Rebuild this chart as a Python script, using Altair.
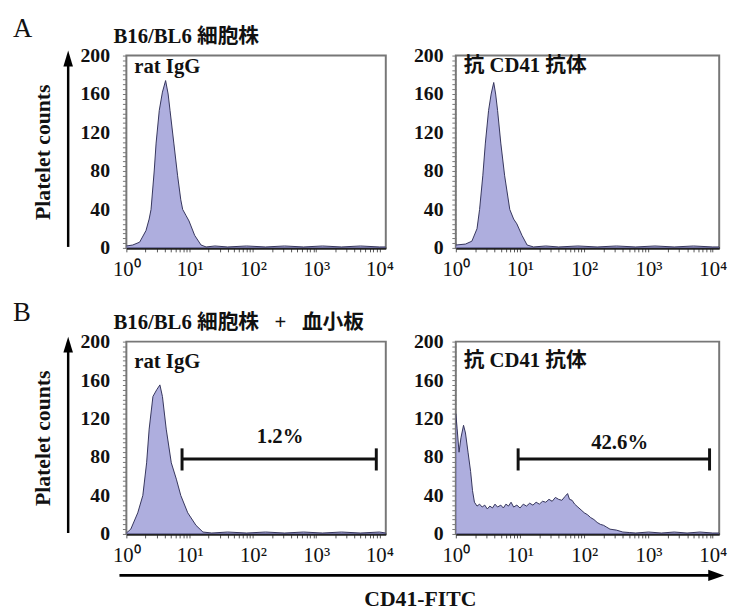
import altair as alt
import pandas as pd

SERIF = "Liberation Serif, 'Noto Sans CJK JP', serif"
FILL = "#8b8bd0"
EDGE = "#34345a"

# ---- data: x = log10(CD41-FITC intensity), y = platelet counts ----
A_RAT_LOG = [0.00, 0.10, 0.21, 0.31, 0.36, 0.39, 0.44, 0.47, 0.52, 0.57, 0.62, 0.66, 0.69,
             0.75, 0.81, 0.86, 0.89, 0.94, 0.99, 1.08, 1.18, 1.26, 1.40, 1.60, 1.90, 2.20,
             2.50, 2.80, 3.10, 3.40, 3.70, 4.00, 4.10]
A_RAT_CNT = [2, 3, 6, 18, 30, 40, 80, 109, 143, 162, 174, 160, 143,
             109, 75, 50, 40, 34, 28, 13, 3, 1, 2, 1, 2, 1,
             2, 1, 2, 1, 2, 1, 1]

A_CD41_LOG = [0.00, 0.15, 0.25, 0.33, 0.37, 0.42, 0.46, 0.51, 0.55, 0.59, 0.62, 0.65, 0.70,
              0.76, 0.84, 0.90, 0.95, 1.03, 1.11, 1.21, 1.40, 1.60, 1.90, 2.20, 2.50, 2.80,
              3.10, 3.40, 3.70, 4.00, 4.10]
A_CD41_CNT = [3, 4, 7, 20, 40, 75, 109, 143, 160, 172, 160, 143, 109,
              75, 40, 30, 25, 13, 3, 1, 2, 1, 2, 1, 2, 1,
              2, 1, 2, 1, 1]

B_RAT_LOG = [0.00, 0.07, 0.18, 0.26, 0.32, 0.36, 0.42, 0.48, 0.53, 0.57, 0.63, 0.71, 0.79,
             0.86, 0.97, 1.10, 1.21, 1.35, 1.60, 1.90, 2.20, 2.50, 2.80, 3.10, 3.40, 3.70,
             4.00, 4.10]
B_RAT_CNT = [1, 5, 22, 40, 74, 109, 143, 150, 155, 143, 109, 74, 57,
             40, 22, 9, 2, 1, 2, 1, 2, 1, 2, 1, 2, 1,
             2, 1]

B_CD41_LOG = [0.00, 0.02, 0.05, 0.08, 0.12, 0.15, 0.19, 0.23, 0.26, 0.29, 0.33, 0.37, 0.41,
              0.45, 0.49, 0.53, 0.57, 0.61, 0.65, 0.70, 0.74, 0.78, 0.82, 0.86, 0.90, 0.95,
              1.00, 1.05, 1.10, 1.15, 1.20, 1.25, 1.30, 1.35, 1.40, 1.45, 1.50, 1.55, 1.60,
              1.65, 1.70, 1.74, 1.77, 1.81, 1.85, 1.90, 1.95, 2.00, 2.05, 2.10, 2.15, 2.20,
              2.25, 2.30, 2.35, 2.40, 2.50, 2.60, 2.70, 2.80, 3.00, 3.20, 3.40, 3.60, 3.80,
              4.00, 4.10]
B_CD41_CNT = [125, 110, 85, 100, 113, 105, 85, 65, 45, 33, 29, 31, 28,
              30, 26, 29, 27, 31, 28, 30, 27, 31, 29, 33, 28, 30,
              27, 31, 29, 32, 30, 33, 31, 34, 33, 36, 34, 38, 36,
              35, 39, 42, 36, 35, 31, 28, 25, 22, 20, 17, 15, 12,
              10, 9, 7, 5, 4, 2, 1.5, 1, 2, 1, 2, 1, 2,
              1, 1]

# gates: start, end, text position (log10), text height (count), percentage text
GATE_B_RAT = (0.88, 3.95, 2.43, 101, "1.2%")
GATE_B_CD41 = (0.97, 3.95, 2.55, 95, "42.6%")
GATE_LEVEL = 78

X_TICKS = [1, 10, 100, 1000, 10000]
X_TICK_LABELS = ["10⁰", "10¹", "10²", "10³", "10⁴"]
X_MINOR = [m * 10 ** k for k in range(4) for m in range(1, 10)] + [10000]
Y_TICKS = [0, 40, 80, 120, 160, 200]
Y_MINOR = list(range(0, 201, 5))

TITLE_A = "B16/BL6 細胞株"
TITLE_B = "B16/BL6 細胞株\u2002 + \u2002血小板"
LABEL_RAT = "rat IgG"
LABEL_CD41 = "抗 CD41 抗体"
Y_TITLE = "Platelet counts"
X_TITLE = "CD41-FITC"

H = 195
W_LEFT = 263
W_RIGHT = 267

x_label_expr = " : ".join(
    f"datum.value == {v} ? '{t}'" for v, t in zip(X_TICKS, X_TICK_LABELS)
) + " : ''"
y_label_expr = f"indexof({Y_TICKS}, datum.value) >= 0 ? datum.label : ''"

XSCALE = alt.Scale(type="log", domain=[1, 10 ** 4.1])
YSCALE = alt.Scale(domain=[0, 200])


def txt(t, x, y, size=21, weight="bold", align="left", baseline="middle", font=SERIF):
    return alt.Chart(pd.DataFrame({"t": [t]})).mark_text(
        font=font, fontSize=size, fontWeight=weight, align=align, baseline=baseline,
        color="#111"
    ).encode(x=alt.value(x), y=alt.value(y), text="t:N")


def panel(logs, counts, width, label, label_y, left, gate=None, title=None,
          letter=None, letter_y=None, bottom=False):
    df = pd.DataFrame({"x": [10 ** v for v in logs], "y": counts})
    xaxis = alt.Axis(values=X_MINOR, labelExpr=x_label_expr, labelOverlap=False,
                     labelFlush=False, labelFont=SERIF, labelFontSize=21,
                     labelColor="#111", tickSize=4, tickColor="#555",
                     labelPadding=7, domainColor="#222", domainWidth=2.5,
                     grid=False, title=None)
    yaxis_kw = dict(values=Y_MINOR, labelExpr=y_label_expr, labelOverlap=False,
                    labelFont=SERIF, labelFontSize=20, labelFontWeight="bold",
                    labelColor="#111", tickSize=4, tickColor="#777", domain=False,
                    grid=False, labelPadding=13 if left else 9)
    if left:
        yaxis = alt.Axis(title=Y_TITLE, titleX=-85, titleY=H / 2, titleAngle=270,
                         titleAlign="center", titleBaseline="middle", titleFont=SERIF,
                         titleFontSize=22, titleFontWeight="bold", titleColor="#111",
                         **yaxis_kw)
    else:
        yaxis = alt.Axis(title=None, **yaxis_kw)

    X = alt.X("x:Q", scale=XSCALE, axis=xaxis)
    Y = alt.Y("y:Q", scale=YSCALE, axis=yaxis)

    hist = alt.Chart(df).mark_area(
        color=FILL, line={"color": EDGE, "strokeWidth": 1}, clip=True
    ).encode(x=X, y=Y)
    layers = [hist, txt(label, 8, label_y)]

    if gate is not None:
        g0, g1, gx, gy, gt = gate
        gdf = pd.DataFrame({"x": [10 ** g0], "x2": [10 ** g1], "y": [GATE_LEVEL]})
        bar = alt.Chart(gdf).mark_rule(color="#111", strokeWidth=3).encode(
            x=X, x2="x2:Q", y=Y)
        cdf = pd.DataFrame({"x": [10 ** g0, 10 ** g1],
                            "y": [GATE_LEVEL - 12] * 2, "y2": [GATE_LEVEL + 11] * 2})
        caps = alt.Chart(cdf).mark_rule(color="#111", strokeWidth=3).encode(
            x=X, y=Y, y2="y2:Q")
        tdf = pd.DataFrame({"x": [10 ** gx], "y": [gy], "t": [gt]})
        ptxt = alt.Chart(tdf).mark_text(font=SERIF, fontSize=21, fontWeight="bold",
                                        color="#111").encode(x=X, y=Y, text="t:N")
        layers += [bar, caps, ptxt]

    if left:
        arrow = alt.Chart(pd.DataFrame({"a": [0]})).mark_rule(
            color="#000", strokeWidth=2.5).encode(
            x=alt.value(-59), y=alt.value(H - 1), y2=alt.value(6))
        head = alt.Chart(pd.DataFrame({"a": [0]})).mark_point(
            shape="M0,-1L0.6,1L-0.6,1Z", size=260, filled=True, opacity=1,
            color="#000").encode(x=alt.value(-59), y=alt.value(3))
        layers += [arrow, head]
    if title is not None:
        layers.append(txt(title, -13, -19))
    if letter is not None:
        layers.append(txt(letter, -115, letter_y, size=27, weight="normal",
                          baseline="alphabetic",
                          font="Liberation Serif, serif"))
    if bottom:
        xr = alt.Chart(pd.DataFrame({"a": [0]})).mark_rule(
            color="#000", strokeWidth=3).encode(
            x=alt.value(-7), x2=alt.value(594), y=alt.value(H + 42))
        xh = alt.Chart(pd.DataFrame({"a": [0]})).mark_point(
            shape="M1,0L-1,-0.7L-1,0.7Z", size=260, filled=True, opacity=1,
            color="#000").encode(x=alt.value(598), y=alt.value(H + 42))
        layers += [xr, xh, txt(X_TITLE, 298, H + 66, size=22, align="center")]

    return alt.layer(*layers).properties(width=width, height=H)


p1 = panel(A_RAT_LOG, A_RAT_CNT, W_LEFT, LABEL_RAT, 12, True,
           title=TITLE_A, letter="A", letter_y=-19)
p2 = panel(A_CD41_LOG, A_CD41_CNT, W_RIGHT, LABEL_CD41, 11, False)
p3 = panel(B_RAT_LOG, B_RAT_CNT, W_LEFT, LABEL_RAT, 21, True, gate=GATE_B_RAT,
           title=TITLE_B, letter="B", letter_y=-21, bottom=True)
p4 = panel(B_CD41_LOG, B_CD41_CNT, W_RIGHT, LABEL_CD41, 20, False, gate=GATE_B_CD41)

chart = alt.concat(
    p1, p2, p3, p4, columns=2, spacing={"row": 95, "column": 71}, bounds="flush"
).properties(
    padding={"left": 4, "top": 2, "right": 5, "bottom": 5},
    background="white",
).configure_view(stroke="#777", strokeWidth=2)

chart.save("out.html", embed_options={"renderer": "svg", "actions": False})
